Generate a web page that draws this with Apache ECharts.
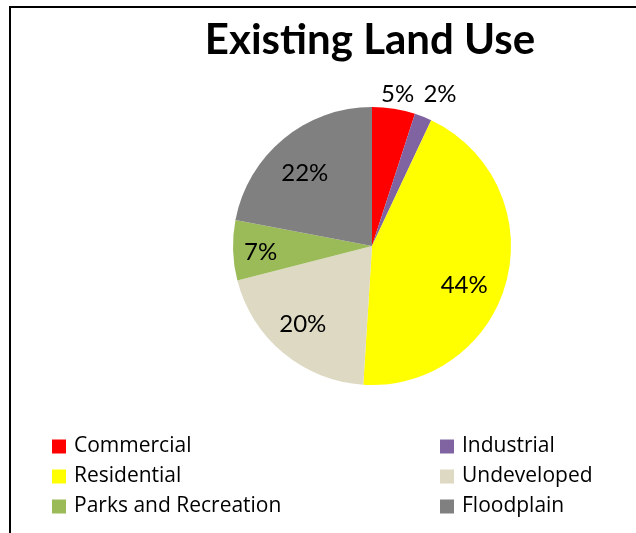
<!DOCTYPE html>
<html>
<head>
<meta charset="utf-8">
<script src="https://cdn.jsdelivr.net/npm/echarts@6/dist/echarts.min.js"></script>
<style>
  html, body { margin: 0; padding: 0; background: #fff; }
  #chart { width: 636px; height: 533px; }
</style>
</head>
<body>
<div id="chart"></div>
<script>
// Land use shares (percent of total area)
const categories = ['Commercial', 'Industrial', 'Residential', 'Undeveloped', 'Parks and Recreation', 'Floodplain'];
const shares = [5, 2, 44, 20, 7, 22];
const sliceColors = ['#FF0000', '#8064A2', '#FFFF00', '#DDD9C3', '#9BBB59', '#808080'];
const smallSliceMax = 5; // slices this small carry their label outside the pie
// small hand nudges for the percentage labels, per slice
const labelNudge = [[1, 4], [10, -5], [-10, 13], [-2, -3], [-6, 3], [0, 9]];

const FONT = 'Lato, "Liberation Sans", sans-serif';
const LEGEND_FONT = '"Open Sans", Lato, sans-serif';
const CENTER = [372, 246];
const R = 139;

const chart = echarts.init(document.getElementById('chart'), null, { renderer: 'canvas' });

const wedgeData = categories.map((name, i) => ({
  name, value: shares[i], itemStyle: { color: sliceColors[i] }
}));

// transparent rings that only carry the percentage labels
const innerLabelData = categories.map((name, i) => ({
  name, value: shares[i],
  label: { show: shares[i] > smallSliceMax, offset: labelNudge[i] }
}));
const outerLabelData = categories.map((name, i) => ({
  name, value: shares[i],
  label: { show: shares[i] <= smallSliceMax, offset: labelNudge[i] }
}));

const labelRing = (radius, data) => ({
  type: 'pie', center: CENTER, radius, data,
  silent: true, percentPrecision: 0,
  itemStyle: { color: 'rgba(0,0,0,0)', borderWidth: 0 },
  label: { position: 'inside', formatter: '{d}%', color: '#000', fontSize: 24, fontFamily: FONT },
  labelLine: { show: false },
  emphasis: { disabled: true },
  tooltip: { show: false }
});

const legendItems = (parity) => categories
  .map((name, i) => ({ name, i }))
  .filter(o => o.i % 2 === parity)
  .map(o => ({ name: o.name, itemStyle: { color: sliceColors[o.i] } }));

const legendBase = {
  orient: 'vertical', top: 436, padding: 0, icon: 'rect',
  itemWidth: 14, itemHeight: 14, itemGap: 9,
  selectedMode: false,
  textStyle: { color: '#000', fontSize: 21, fontFamily: LEGEND_FONT, lineHeight: 21, padding: [0, 0, 0, 3] }
};

chart.setOption({
  animation: false,
  title: {
    text: 'Existing Land Use', left: 370, top: 19, padding: 0, textAlign: 'center',
    textStyle: { fontSize: 42, fontWeight: 'bold', fontFamily: FONT, color: '#000' }
  },
  legend: [
    Object.assign({}, legendBase, { left: 52, data: legendItems(0) }),
    Object.assign({}, legendBase, { left: 440, data: legendItems(1) })
  ],
  graphic: [{
    type: 'rect', silent: true,
    shape: { x: 10, y: 7, width: 700, height: 600 },
    style: { fill: 'none', stroke: '#000', lineWidth: 2 }
  }],
  series: [
    {
      type: 'pie', center: CENTER, radius: [0, R], data: wedgeData,
      startAngle: 90, clockwise: true, silent: true,
      itemStyle: { borderWidth: 0 },
      label: { show: false }, labelLine: { show: false },
      emphasis: { disabled: true }
    },
    labelRing([66, R], innerLabelData),
    labelRing([R, 170], outerLabelData)
  ]
});
</script>
</body>
</html>
